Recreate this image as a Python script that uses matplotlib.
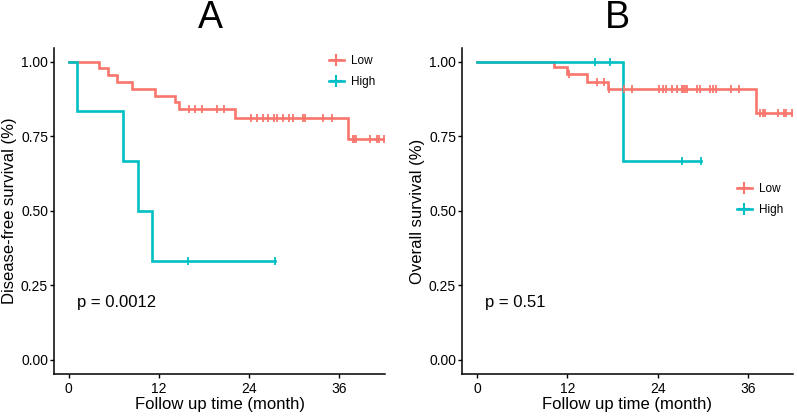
import numpy as np
import matplotlib
matplotlib.use("Agg")
import matplotlib.pyplot as plt
from matplotlib.lines import Line2D

plt.rcParams['font.family'] = ['Liberation Sans', 'DejaVu Sans']

# ---------------- data ----------------
# Panel A: disease-free survival
a_low_t = [0, 4.1, 5.3, 6.4, 8.5, 11.5, 14.2, 14.7, 22.2, 37.2, 42.0]
a_low_s = [1.0, 0.978, 0.955, 0.931, 0.908, 0.886, 0.864, 0.840, 0.812, 0.740, 0.740]
a_low_censor = [16.0, 16.8, 17.7, 19.8, 20.7, 24.3, 25.1, 25.9, 26.5, 27.3, 27.7,
                28.5, 29.3, 29.9, 31.2, 31.5, 33.9, 35.0, 37.8, 38.0, 38.3, 40.1,
                41.0, 41.3, 42.0]
a_high_t = [0, 1.07, 7.2, 9.3, 11.1, 27.4]
a_high_s = [1.0, 0.833, 0.667, 0.5, 0.333, 0.333]
a_high_censor = [15.9, 27.4]
a_pval = "p = 0.0012"

# Panel B: overall survival
b_low_t = [0, 10.25, 12.0, 14.6, 17.4, 37.0, 41.8]
b_low_s = [1.0, 0.981, 0.959, 0.931, 0.907, 0.827, 0.827]
b_low_censor = [12.2, 15.9, 16.9, 17.5, 19.5, 20.6, 24.2, 24.7, 25.1, 25.9, 26.5,
                27.2, 27.4, 27.6, 27.9, 29.2, 29.6, 30.9, 31.3, 31.7, 33.7, 34.8,
                37.6, 37.9, 38.2, 39.9, 40.7, 41.0, 41.8]
b_high_t = [0, 19.4, 29.7]
b_high_s = [1.0, 0.667, 0.667]
b_high_censor = [15.7, 17.6, 27.2, 29.7]
b_pval = "p = 0.51"

groups = ["Low", "High"]
colors = ["#F8766D", "#00BFC4"]
x_ticks = [0, 12, 24, 36]
y_ticks = [0.0, 0.25, 0.5, 0.75, 1.0]
y_ticklabels = ["0.00", "0.25", "0.50", "0.75", "1.00"]

# ---------------- figure ----------------
W, H = 797, 418
fig = plt.figure(figsize=(W / 100, H / 100), dpi=100)


def step_val(t, s, c):
    t = np.asarray(t); s = np.asarray(s); c = np.asarray(c)
    idx = np.searchsorted(t, c, side="right") - 1
    return s[idx]


def panel(rect, xlim, curves, ylabel, pval, pval_xy, leg_anchor):
    ax = fig.add_axes(rect)
    for (t, s, cens), col in zip(curves, colors):
        ax.step(t, s, where="post", color=col, lw=1.9, solid_joinstyle="miter", zorder=3)
        ax.plot(cens, step_val(t, s, cens), ls="none", marker="|", ms=6,
                mew=1.3, color=col, zorder=4)
    ax.set_xlim(*xlim)
    ax.set_ylim(-0.048, 1.047)
    ax.set_xticks(x_ticks)
    ax.set_yticks(y_ticks)
    ax.set_yticklabels(y_ticklabels)
    for sp in ["top", "right"]:
        ax.spines[sp].set_visible(False)
    for sp in ["left", "bottom"]:
        ax.spines[sp].set_linewidth(1.1)
        ax.spines[sp].set_color("black")
    ax.tick_params(axis="both", direction="out", length=3, width=1.0,
                   labelsize=10, colors="black")
    ax.tick_params(axis="y", pad=1.5)
    ax.tick_params(axis="x", pad=2.5)
    ax.set_xlabel("Follow up time (month)", fontsize=12, labelpad=1)
    ax.set_ylabel(ylabel, fontsize=12, labelpad=3)
    ax.text(pval_xy[0], pval_xy[1], pval, fontsize=12, ha="left", va="center",
            transform=ax.transAxes)
    handles = [Line2D([], [], color=c, lw=1.9, marker="+", ms=8, mew=1.5) for c in colors]
    ax.legend(handles, groups, loc="upper left", bbox_to_anchor=leg_anchor,
              frameon=False, fontsize=8.5, handlelength=1.3, handletextpad=0.6,
              labelspacing=0.75, borderpad=0, borderaxespad=0)
    return ax


ax_bottom = 1 - 374.3 / H
ax_h = (374.3 - 47.5) / H

axA = panel([54.3 / W, ax_bottom, 330.7 / W, ax_h], (-1.9, 42.1),
            [(a_low_t, a_low_s, a_low_censor), (a_high_t, a_high_s, a_high_censor)],
            "Disease-free survival (%)", a_pval, (0.068, 0.22), (0.83, 0.977))
axB = panel([462.3 / W, ax_bottom, 330.4 / W, ax_h], (-1.95, 41.9),
            [(b_low_t, b_low_s, b_low_censor), (b_high_t, b_high_s, b_high_censor)],
            "Overall survival (%)", b_pval, (0.068, 0.22), (0.83, 0.585))

fig.text(210 / W, 1 - 18 / H, "A", fontsize=27, ha="center", va="center")
fig.text(617 / W, 1 - 18 / H, "B", fontsize=27, ha="center", va="center")

fig.savefig("out.png", dpi=100)
